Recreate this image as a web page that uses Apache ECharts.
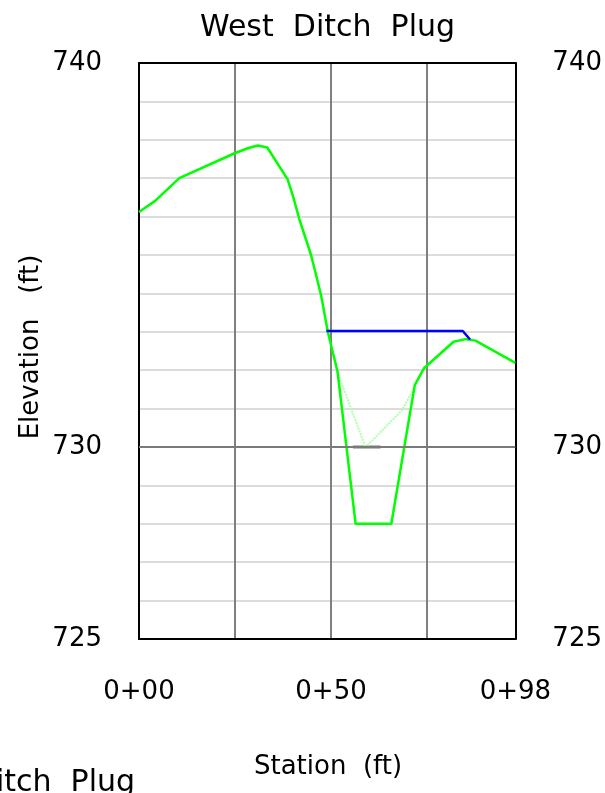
<!DOCTYPE html>
<html>
<head>
<meta charset="utf-8">
<script src="https://cdn.jsdelivr.net/npm/echarts@6/dist/echarts.min.js"></script>
<style>
html,body{margin:0;padding:0;background:#fff;}
#chart{width:605px;height:793px;}
</style>
</head>
<body>
<div id="chart"></div>
<script>
// ---- data ----
var titleText = "West  Ditch  Plug";
var xAxisName = "Station  (ft)";
var yAxisName = "Elevation   (ft)";

var groundStation = [0, 4.2, 10.5, 24.9, 28.3, 30.9, 33.4, 38.7, 40.2, 41.7, 44.8, 47.4, 49.2, 51.7, 56.4, 65.7, 71.8, 74.2, 81.9, 85.0, 87.6, 98];
var groundElev    = [736.12, 736.41, 737.0, 737.65, 737.78, 737.85, 737.8, 736.97, 736.5, 735.95, 735.0, 733.96, 732.98, 731.96, 728.0, 728.0, 731.61, 732.05, 732.74, 732.81, 732.77, 732.19];

var existStation = [51.6, 59.0, 68.5, 72.0];
var existElev    = [731.97, 729.99, 730.96, 731.61];

var waterStation = [48.8, 84.3, 86.2];
var waterElev    = [733.02, 733.02, 732.8];

var plugStation = [55.7, 62.9];
var plugElev    = [730, 730];

var xTickLabels = {0: "0+00", 50: "0+50", 98: "0+98"};
var yTickLabels = {725: "725", 730: "730", 740: "740"};
var refElev = 730;

function zip(a, b) { return a.map(function (v, i) { return [v, b[i]]; }); }

var FONT = "DejaVu Sans";
var chart = echarts.init(document.getElementById('chart'), null, {renderer: 'canvas'});

var frame = {show: true, onZero: false, lineStyle: {color: '#000', width: 2}};

var yAxisBase = {
  type: 'value', min: 725, max: 740, interval: 1,
  axisLine: frame,
  axisTick: {show: false},
  axisLabel: {
    fontFamily: FONT, fontSize: 26, color: '#000', margin: 37,
    formatter: function (v) { return yTickLabels[v] || ''; }
  }
};

var option = {
  animation: false,
  backgroundColor: '#fff',
  grid: {left: 139, top: 63, width: 378, height: 576},
  xAxis: [{
    type: 'value', min: 0, max: 98, interval: 25, position: 'bottom',
    axisLine: frame, axisTick: {show: false},
    splitLine: {show: true, lineStyle: {color: '#808080', width: 2}},
    axisLabel: {
      fontFamily: FONT, fontSize: 26, color: '#000', margin: 40,
      showMaxLabel: true,
      formatter: function (v) { return xTickLabels[v] || ''; }
    }
  }, {
    type: 'value', min: 0, max: 98, interval: 25, position: 'top',
    axisLine: frame, axisTick: {show: false}, axisLabel: {show: false}, splitLine: {show: false}
  }],
  yAxis: [
    Object.assign({}, yAxisBase, {position: 'left',
      splitLine: {show: true, lineStyle: {color: '#dcdcdc', width: 2}}}),
    Object.assign({}, yAxisBase, {position: 'right', splitLine: {show: false}})
  ],
  graphic: [
    {type: 'text', x: 200, y: 28,
     style: {text: titleText, fontFamily: FONT, fontSize: 30, fill: '#000', align: 'left', verticalAlign: 'middle'}},
    {type: 'text', x: -120, y: 783,
     style: {text: titleText, fontFamily: FONT, fontSize: 30, fill: '#000', align: 'left', verticalAlign: 'middle'}},
    {type: 'text', x: 31, y: 347, rotation: Math.PI / 2,
     style: {text: yAxisName, fontFamily: FONT, fontSize: 26, fill: '#000', align: 'center', verticalAlign: 'middle'}},
    {type: 'text', x: 328, y: 767,
     style: {text: xAxisName, fontFamily: FONT, fontSize: 26, fill: '#000', align: 'center', verticalAlign: 'middle'}}
  ],
  series: [
    {type: 'line', data: zip(plugStation, plugElev), symbol: 'none', silent: true,
     lineStyle: {color: '#7a7a7a', width: 3}, z: 3,
     markLine: {silent: true, symbol: 'none', label: {show: false},
       lineStyle: {color: '#7a7a7a', width: 2, type: 'solid'}, data: [{yAxis: refElev}]}},
    {type: 'line', data: zip(existStation, existElev), symbol: 'none', silent: true,
     lineStyle: {color: '#b0ffb0', width: 2, type: [2, 1]}, z: 3},
    {type: 'line', data: zip(groundStation, groundElev), symbol: 'none', silent: true,
     lineStyle: {color: '#00ff00', width: 2.5}, z: 4},
    {type: 'line', data: zip(waterStation, waterElev), symbol: 'none', silent: true,
     lineStyle: {color: '#0000ff', width: 2.5}, z: 5}
  ]
};
chart.setOption(option);
</script>
</body>
</html>
